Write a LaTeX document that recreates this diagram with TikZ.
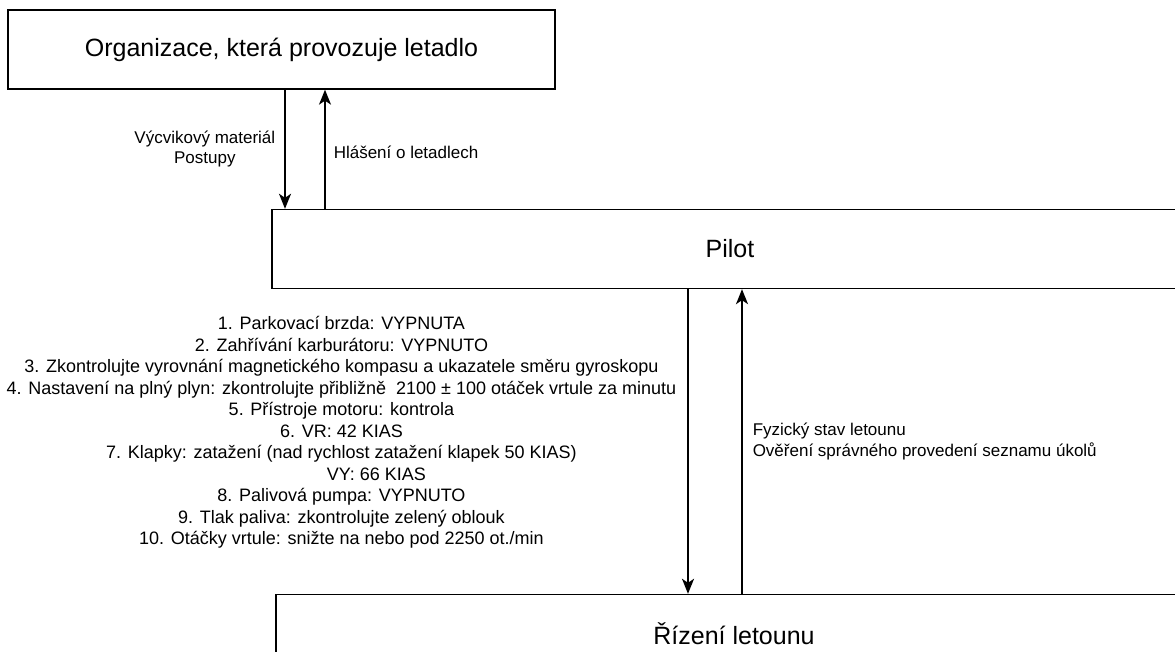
\documentclass[tikz,border=0pt]{standalone}
\usepackage{fontspec}
\setmainfont{Liberation Sans}
\usetikzlibrary{arrows.meta,positioning,calc}

\tikzset{
	box/.style={draw, line width=1.4pt, minimum height=79pt, inner sep=0pt, font=\fontsize{25}{30}\selectfont},
	flow/.style={line width=1.5pt, -{Stealth[length=15pt,width=12pt,inset=4pt]}},
	lbl/.style={font=\fontsize{17}{20.5}\selectfont, inner sep=0pt}
}

\begin{document}
\begin{tikzpicture}[x=1pt,y=1pt]
	\useasboundingbox (0,0) rectangle (1175,652);
	\node [box, minimum width=547pt] (org) at (281.5,602.5) {Organizace, která provozuje letadlo};
	\node [box, minimum width=916pt] (pilot) at (730,403) {Pilot};
	\node [box, minimum width=916pt] (rizeni) at (734,18) {Řízení letounu};
	\coordinate (a1) at (285,0);
	\coordinate (a2) at (325,0);
	\coordinate (a3) at (688,0);
	\coordinate (a4) at (742,0);
	\draw [flow] (org.south -| a1) -- node[lbl, left=9pt, align=center]{Výcvikový materiál\\Postupy} (pilot.north -| a1);
	\draw [flow] (pilot.north -| a2) -- node[lbl, right=8pt, yshift=-3pt]{Hlášení o letadlech} (org.south -| a2);
	\draw [flow] (pilot.south -| a3) -- node[lbl, left=11pt, yshift=9pt, align=center, font=\fontsize{18}{21.5}\selectfont]{%
		1. Parkovací brzda: VYPNUTA\\
		2. Zahřívání karburátoru: VYPNUTO\\
		3. Zkontrolujte vyrovnání magnetického kompasu a ukazatele směru gyroskopu\\
		4. Nastavení na plný plyn: zkontrolujte přibližně~ 2100 ± 100 otáček vrtule za minutu\\
		5. Přístroje motoru: kontrola\\
		6. VR: 42 KIAS\\
		7. Klapky: zatažení (nad rychlost zatažení klapek 50 KIAS)\\
		\hspace*{70pt}VY: 66 KIAS\\
		8. Palivová pumpa: VYPNUTO\\
		9. Tlak paliva: zkontrolujte zelený oblouk\\
		10. Otáčky vrtule: snižte na nebo pod 2250 ot./min} (rizeni.north -| a3);
	\draw [flow] (rizeni.north -| a4) -- node[lbl, right=10pt, align=left]{Fyzický stav letounu\\Ověření správného provedení seznamu úkolů} (pilot.south -| a4);
\end{tikzpicture}
\end{document}
